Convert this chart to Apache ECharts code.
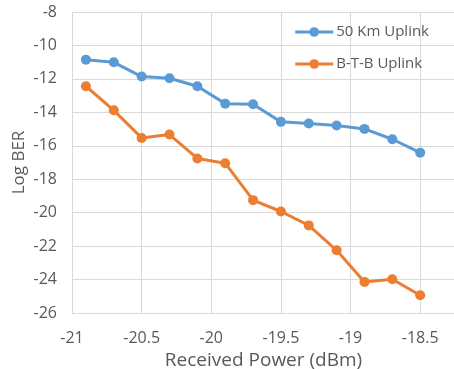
<!DOCTYPE html>
<html>
<head>
<meta charset="utf-8">
<script src="https://cdn.jsdelivr.net/npm/echarts@6/dist/echarts.min.js"></script>
<style>html,body{margin:0;padding:0;background:#fff}#c{width:454px;height:369px}</style>
</head>
<body>
<div id="c"></div>
<script>
const xValues = [-20.9, -20.7, -20.5, -20.3, -20.1, -19.9, -19.7, -19.5, -19.3, -19.1, -18.9, -18.7, -18.5];
const uplink50km = [-10.85, -11.01, -11.86, -11.96, -12.44, -13.48, -13.52, -14.57, -14.67, -14.79, -14.99, -15.61, -16.41];
const btbUplink = [-12.44, -13.88, -15.53, -15.33, -16.76, -17.04, -19.25, -19.93, -20.76, -22.25, -24.14, -23.98, -24.94];
const seriesNames = ['50 Km Uplink', 'B-T-B Uplink'];

const font = '"Open Sans", Lato, sans-serif';
const txt = '#595959';
const chart = echarts.init(document.getElementById('c'), null, {renderer: 'canvas'});
const pair = (ys) => xValues.map((x, i) => [x, ys[i]]);
chart.setOption({
  animation: false,
  backgroundColor: '#fff',
  textStyle: {fontFamily: font},
  grid: {left: 72, right: -1, top: 12, bottom: 56, containLabel: false, outerBoundsMode: 'none'},
  legend: {
    right: 20, top: 17, orient: 'vertical', itemGap: 12,
    itemWidth: 38, itemHeight: 12,
    lineStyle: {width: 3},
    textStyle: {fontFamily: font, fontSize: 15, lineHeight: 20, color: txt, padding: [0, 0, 0, -2]},
    data: seriesNames
  },
  xAxis: {
    type: 'value', min: -21, max: -18.25, interval: 0.5,
    name: 'Received Power (dBm)', nameLocation: 'middle', nameGap: 27,
    nameTextStyle: {fontFamily: font, fontSize: 19, color: txt},
    axisLine: {show: false}, axisTick: {show: false},
    axisLabel: {showMaxLabel: false, fontFamily: font, fontSize: 16, color: txt, margin: 17},
    splitLine: {show: true, lineStyle: {color: '#d9d9d9', width: 1}}
  },
  yAxis: {
    type: 'value', min: -26, max: -8, interval: 2,
    name: 'Log BER', nameLocation: 'middle', nameGap: 44, nameMoveOverlap: false,
    nameTextStyle: {fontFamily: font, fontSize: 17, color: txt},
    axisLine: {show: false}, axisTick: {show: false},
    axisLabel: {fontFamily: font, fontSize: 16, color: txt, margin: 15},
    splitLine: {show: true, lineStyle: {color: '#d9d9d9', width: 1}}
  },
  series: [
    {name: seriesNames[0], type: 'line', data: pair(uplink50km), color: '#5B9BD5',
     symbol: 'circle', symbolSize: 10, lineStyle: {width: 3}},
    {name: seriesNames[1], type: 'line', data: pair(btbUplink), color: '#ED7D31',
     symbol: 'circle', symbolSize: 10, lineStyle: {width: 3}}
  ]
});
</script>
</body>
</html>
